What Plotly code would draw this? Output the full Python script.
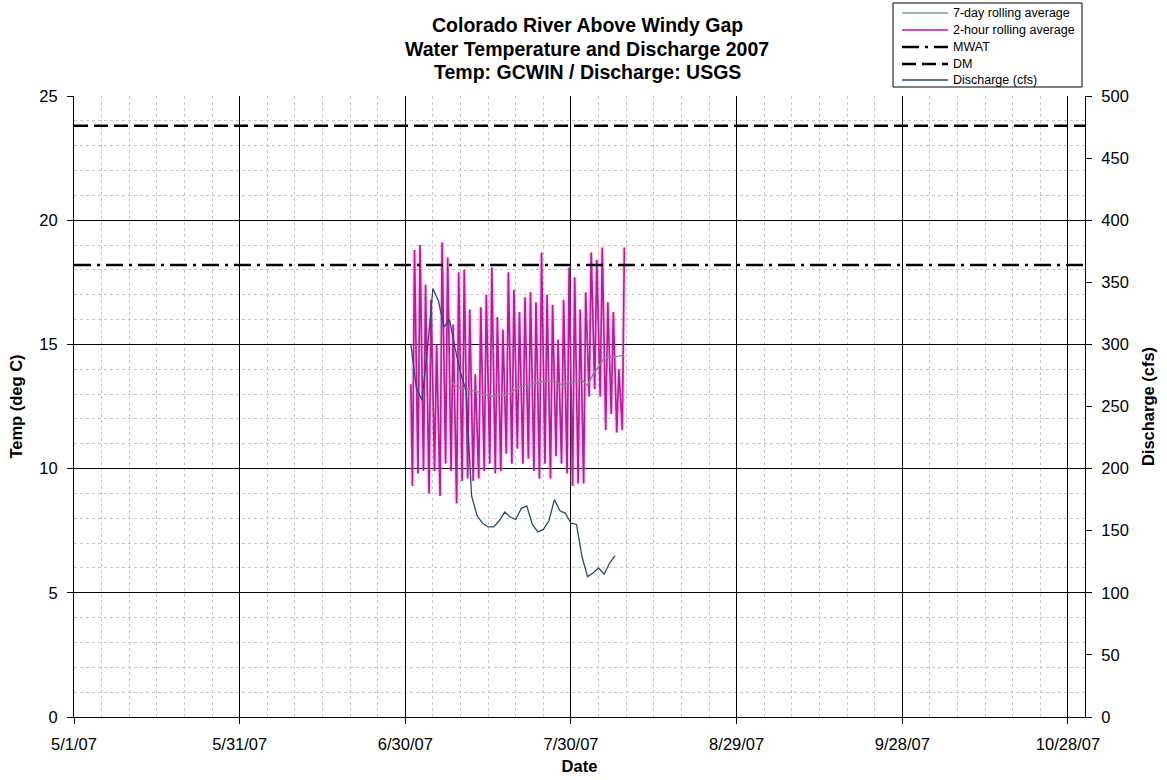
import plotly.graph_objects as go
import pandas as pd

# ---------------- data ----------------
x_axis_range = ["2007-05-01", "2007-10-31 02:00"]
x_tick_start = "2007-05-01"

title_lines = ["Colorado River Above Windy Gap",
               "Water Temperature and Discharge 2007",
               "Temp: GCWIN / Discharge: USGS"]

# 2-hour rolling average temperature: daily troughs (morning) and peaks (afternoon)
temp_start_time = "2007-07-01 00:00"
temp_start_value = 13.4
temp_days = pd.date_range("2007-07-01", "2007-08-08", freq="D")
temp_daily_min = [9.3, 9.8, 9.9, 9.0, 9.9, 8.9, 10.2, 9.9, 8.6, 9.5,
                  9.6, 9.5, 9.6, 9.9, 10.2, 9.8, 9.9, 10.6, 10.2, 10.8,
                  10.2, 10.4, 9.9, 9.6, 10.2, 9.6, 10.5, 10.2, 9.8, 9.3,
                  9.4, 9.4, 12.9, 13.2, 12.9, 11.55, 12.2, 11.45, 11.55]
temp_daily_max = [18.8, 19.0, 17.4, 16.8, 15.0, 19.1, 18.5, 15.8, 17.9, 18.0,
                  16.4, 13.8, 16.5, 17.0, 18.1, 16.1, 15.6, 17.9, 17.2, 16.3,
                  16.9, 17.1, 16.7, 18.7, 17.0, 16.6, 15.2, 16.8, 18.1, 17.7,
                  16.4, 17.1, 18.7, 18.4, 18.9, 16.7, 16.3, 14.0, 18.9]
temp_min_hour = 7
temp_max_hour = 16

# 7-day rolling average temperature
avg7_dates = ["2007-07-08", "2007-07-09", "2007-07-10", "2007-07-11", "2007-07-12",
              "2007-07-13", "2007-07-14", "2007-07-15", "2007-07-16", "2007-07-17",
              "2007-07-18", "2007-07-19", "2007-07-20", "2007-07-21", "2007-07-22",
              "2007-07-23", "2007-07-24", "2007-07-25", "2007-07-26", "2007-07-27",
              "2007-07-28", "2007-07-29", "2007-07-30", "2007-07-31", "2007-08-01",
              "2007-08-02", "2007-08-03", "2007-08-04", "2007-08-05", "2007-08-06",
              "2007-08-07", "2007-08-08", "2007-08-08 16:00"]
avg7_values = [13.6, 13.35, 13.25, 13.2, 13.15, 13.1, 13.0, 12.95, 12.9, 13.0,
               12.95, 13.05, 13.2, 13.3, 13.4, 13.4, 13.45, 13.5, 13.55, 13.5,
               13.4, 13.4, 13.45, 13.5, 13.57, 13.35, 13.8, 14.1, 14.45, 14.5,
               14.5, 14.55, 14.5]

# Discharge (cfs), daily
discharge_dates = pd.date_range("2007-07-01", "2007-08-07", freq="D")
discharge_values = [300, 265, 255, 296, 345, 335, 314, 320, 297, 277,
                    263, 178, 162, 156, 153, 153, 158, 165, 161, 159,
                    168, 170, 155, 149, 151, 158, 175, 166, 164, 156,
                    155, 129, 113, 116, 120, 115, 124, 130]

mwat_value = 18.2
dm_value = 23.8

# ---------------- styles ----------------
FONT = "Liberation Sans, Arial, sans-serif"
DAY_MS = 86400000
W, H = 1167, 780
ML, MR, MT, MB = 74, 82, 96, 63
PW, PH = W - ML - MR, H - MT - MB

series_styles = [
    ("7-day rolling average", dict(color="#6f9ea0", width=1.3)),
    ("2-hour rolling average", dict(color="#c0179e", width=1.7)),
    ("MWAT", dict(color="black", width=2.5, dash="17px,6px,3px,6px")),
    ("DM", dict(color="black", width=2.5, dash="14px,6px")),
    ("Discharge (cfs)", dict(color="#2a4a72", width=1.3)),
]
style = dict(series_styles)

def px_x(px):
    return (px - ML) / PW

def px_y(py):
    return (H - MB - py) / PH

# ---------------- build 2-hour series ----------------
t_x = [pd.Timestamp(temp_start_time)]
t_y = [temp_start_value]
for d, lo, hi in zip(temp_days, temp_daily_min, temp_daily_max):
    t_x.append(d + pd.Timedelta(hours=temp_min_hour))
    t_y.append(lo)
    t_x.append(d + pd.Timedelta(hours=temp_max_hour))
    t_y.append(hi)

fig = go.Figure()
# soft pink halo under the 2-hour line (as in the dense original rendering)
fig.add_trace(go.Scatter(x=t_x, y=t_y, mode="lines", hoverinfo="skip",
                         name="2-hour halo",
                         line=dict(color="rgba(205,130,195,0.28)", width=4.5)))
fig.add_trace(go.Scatter(x=t_x, y=t_y, mode="lines",
                         name="2-hour rolling average",
                         line=style["2-hour rolling average"]))
fig.add_trace(go.Scatter(x=avg7_dates, y=avg7_values, mode="lines",
                         name="7-day rolling average",
                         line=dict(color="#8a8496", width=1.3)))
fig.add_trace(go.Scatter(x=x_axis_range, y=[mwat_value, mwat_value], mode="lines",
                         name="MWAT", line=style["MWAT"]))
fig.add_trace(go.Scatter(x=x_axis_range, y=[dm_value, dm_value], mode="lines",
                         name="DM", line=style["DM"]))
fig.add_trace(go.Scatter(x=discharge_dates, y=discharge_values, mode="lines",
                         name="Discharge (cfs)", yaxis="y2",
                         line=style["Discharge (cfs)"]))

# ---------------- title (three lines) ----------------
annotations = []
for line_text, py in zip(title_lines, [25, 48.5, 72]):
    annotations.append(dict(text="<b>%s</b>" % line_text, xref="paper", yref="paper",
                            x=px_x(587), y=px_y(py), xanchor="center", yanchor="middle",
                            showarrow=False, font=dict(size=19.5, family=FONT, color="black")))

# ---------------- legend box ----------------
shapes = [dict(type="rect", xref="paper", yref="paper",
               x0=px_x(893), x1=px_x(1082), y0=px_y(87), y1=px_y(3),
               line=dict(color="black", width=1), fillcolor="white", layer="above")]
for (name, ln), py in zip(series_styles, [13, 30, 47, 64, 80]):
    shapes.append(dict(type="line", xref="paper", yref="paper",
                       x0=px_x(902), x1=px_x(948), y0=px_y(py), y1=px_y(py),
                       line=ln, layer="above"))
    annotations.append(dict(text=name, xref="paper", yref="paper",
                            x=px_x(951), y=px_y(py), xanchor="left", yanchor="middle",
                            showarrow=False, font=dict(size=12.5, family=FONT, color="black")))

fig.update_layout(
    width=W, height=H,
    margin=dict(l=ML, r=MR, t=MT, b=MB, autoexpand=False),
    paper_bgcolor="white", plot_bgcolor="white",
    font=dict(family=FONT, color="black", size=16.5),
    showlegend=False,
    annotations=annotations,
    shapes=shapes,
    xaxis=dict(type="date", range=x_axis_range,
               tick0=x_tick_start, dtick=30 * DAY_MS, tickformat="%-m/%-d/%y",
               showgrid=True, gridcolor="black", gridwidth=1,
               showline=True, linecolor="black", linewidth=1,
               ticks="outside", ticklen=6, tickcolor="black",
               ticklabelstandoff=6,
               minor=dict(tick0=x_tick_start, dtick=5 * DAY_MS, showgrid=True,
                          gridcolor="#c8c8c8", griddash="dot", gridwidth=1),
               title=dict(text="<b>Date</b>", font=dict(size=16.5), standoff=8),
               zeroline=False),
    yaxis=dict(range=[0, 25], dtick=5, tick0=0,
               showgrid=True, gridcolor="black", gridwidth=1,
               showline=True, linecolor="black", linewidth=1,
               ticks="outside", ticklen=6, tickcolor="black",
               ticklabelstandoff=6,
               minor=dict(dtick=1, showgrid=True, gridcolor="#c8c8c8",
                          griddash="dot", gridwidth=1),
               title=dict(text="<b>Temp (deg C)</b>", font=dict(size=16.5), standoff=12),
               zeroline=False),
    yaxis2=dict(range=[0, 500], dtick=50, tick0=0, overlaying="y", side="right",
                showgrid=False, showline=True, linecolor="black", linewidth=1,
                ticks="outside", ticklen=6, tickcolor="black",
                ticklabelstandoff=6,
                title=dict(text="<b>Discharge (cfs)</b>", font=dict(size=16.5), standoff=14),
                zeroline=False),
)

fig.write_html("out.html")
